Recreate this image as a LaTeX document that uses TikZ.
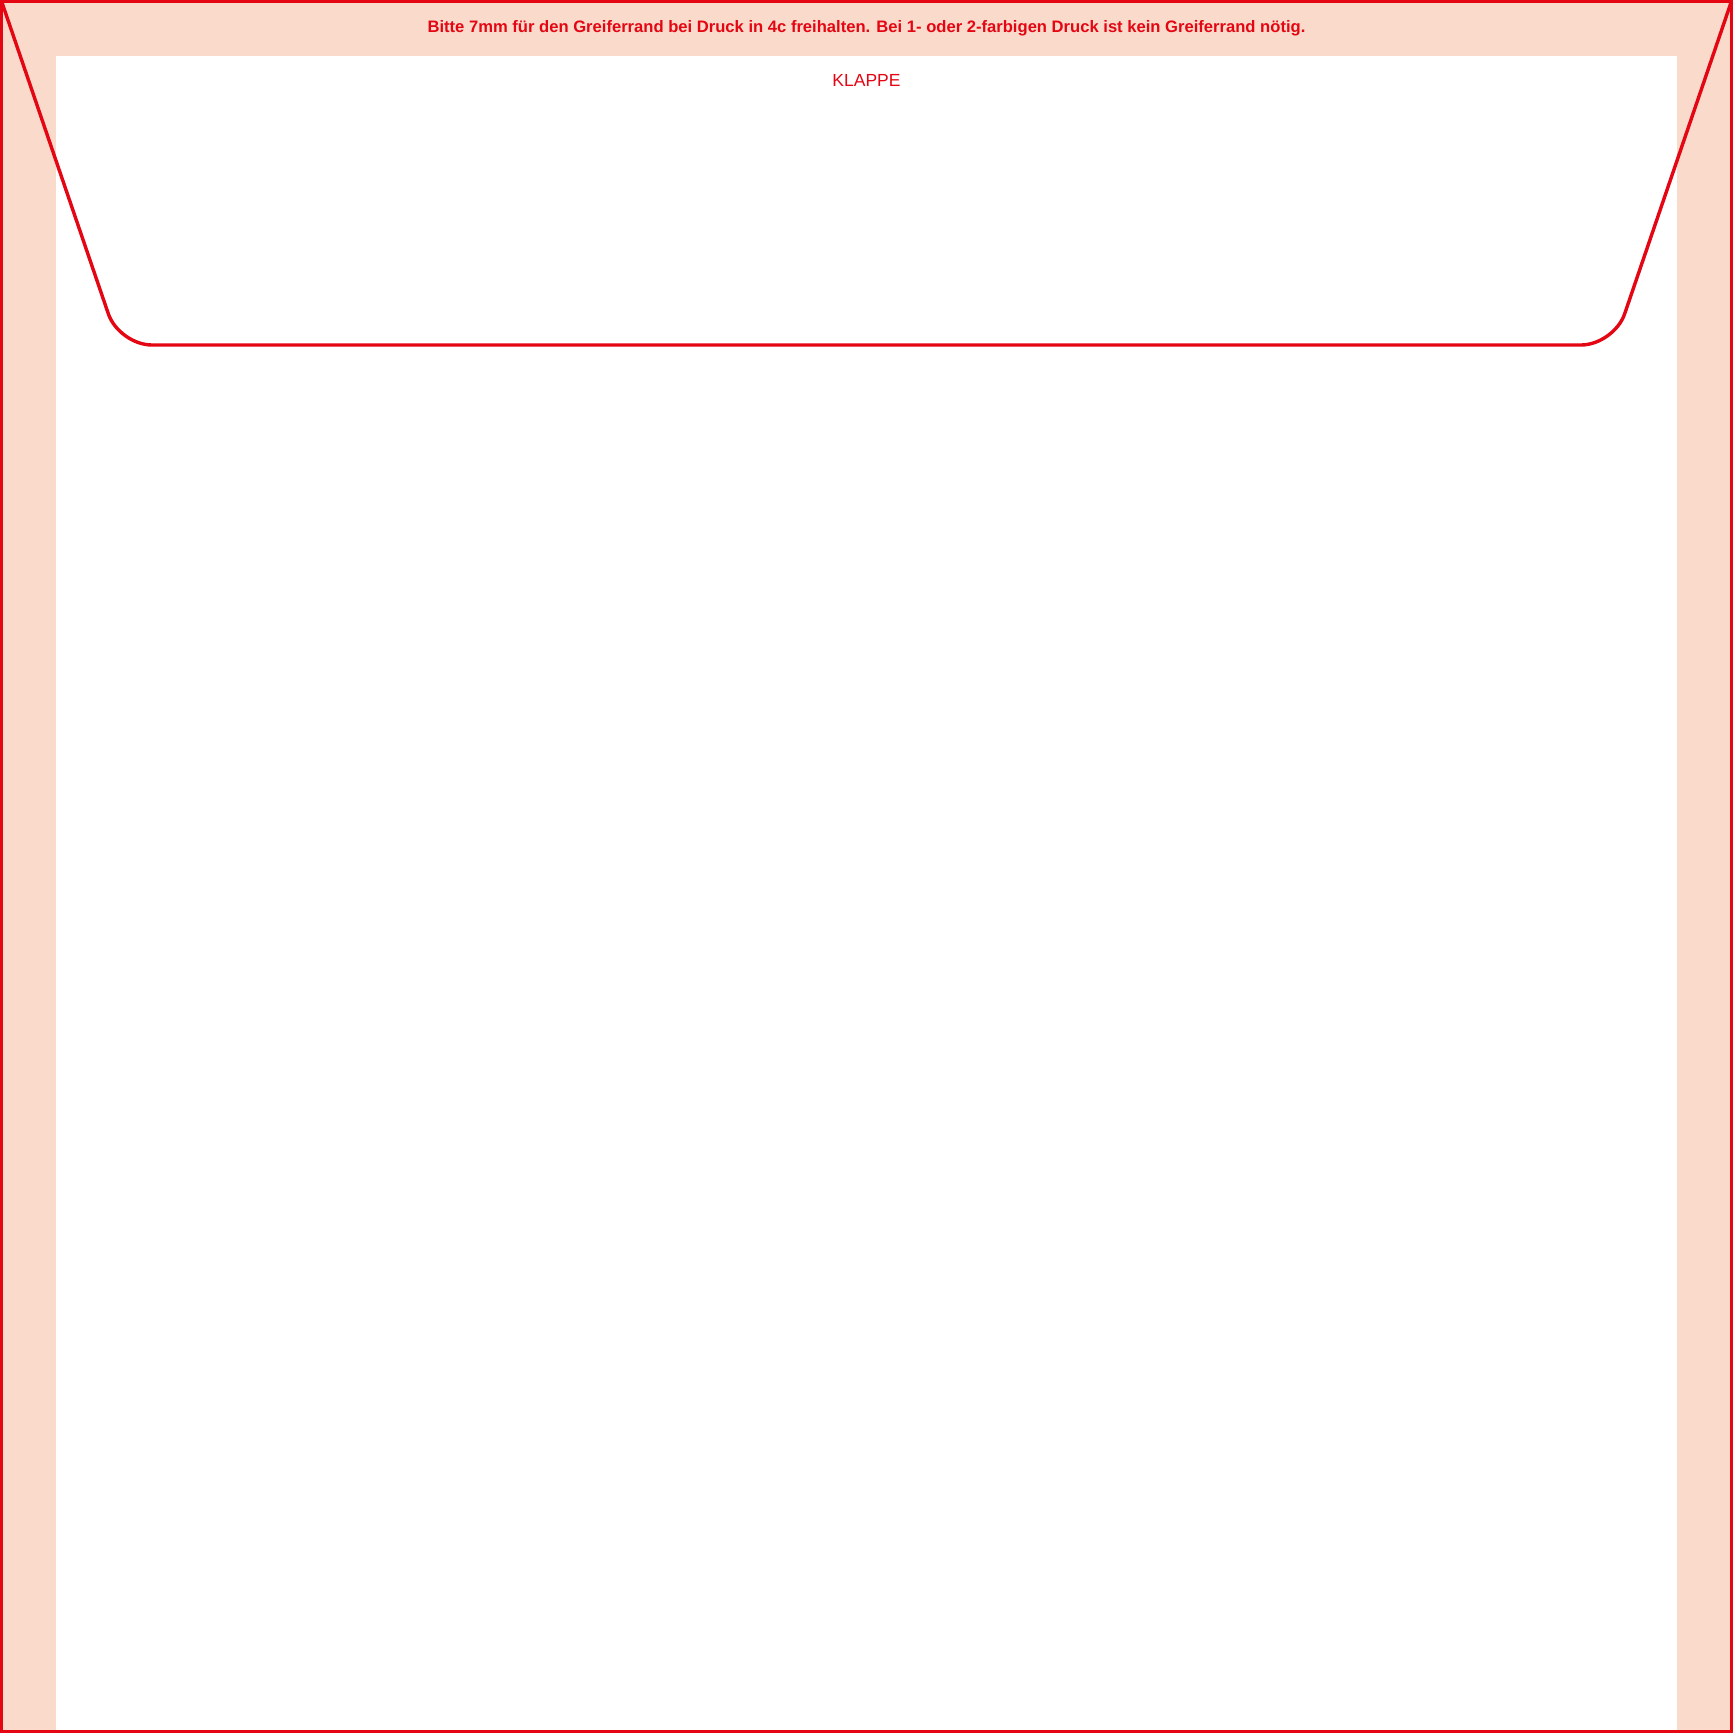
\documentclass[tikz,border=0pt]{standalone}
\usepackage{fontspec}
\setmainfont{Liberation Sans}
\definecolor{cutred}{RGB}{228,6,19}
\definecolor{gripper}{RGB}{250,219,203}
\begin{document}
\begin{tikzpicture}[x=1pt,y=-1pt,
  cutline/.style={draw=cutred,line width=3.4pt},
  label/.style={text=cutred,inner sep=0pt,anchor=base}]
\useasboundingbox (0,0) rectangle (1733,1733);
\fill[white] (0,0) rectangle (1733,1733);
\fill[gripper] (0,0) rectangle (1733,56);
\fill[gripper] (0,0) rectangle (56,1733);
\fill[gripper] (1677,0) rectangle (1733,1733);
\draw[cutline,rounded corners=33pt,line join=round] (1.7,1.7) -- (119,345) -- (1614,345) -- (1731.3,1.7);
\draw[cutline] (1.7,1.7) rectangle (1731.3,1731.3);
\node[label,font=\fontsize{16.6}{19}\selectfont\bfseries] (note) at (866.5,32.3) {Bitte 7mm für den Greiferrand bei Druck in 4c freihalten. Bei 1- oder 2-farbigen Druck ist kein Greiferrand nötig.};
\node[label,font=\fontsize{17.5}{20}\selectfont] (flap) at (866.5,86.7) {KLAPPE};
\end{tikzpicture}
\end{document}
